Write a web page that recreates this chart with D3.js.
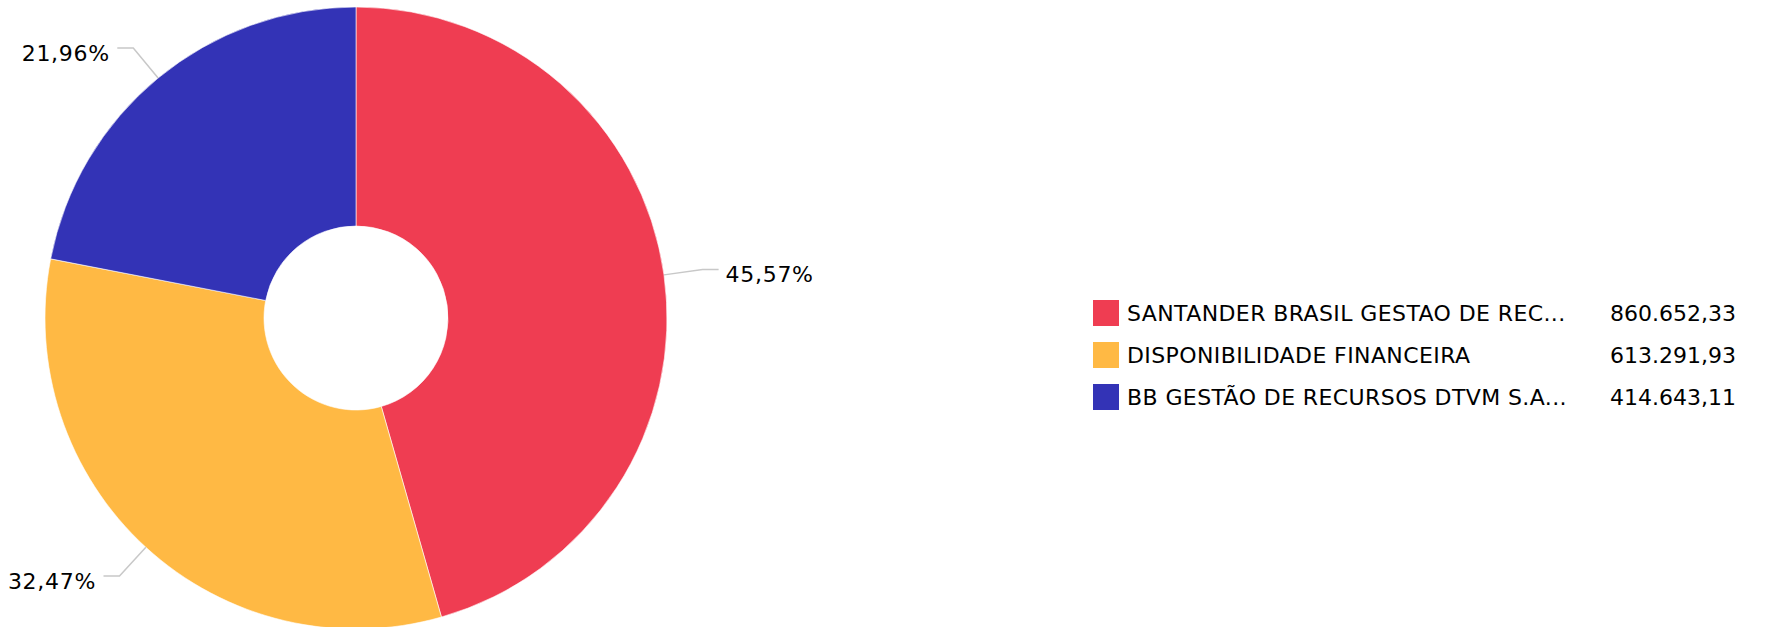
<!DOCTYPE html>
<html>
<head>
<meta charset="utf-8">
<script src="https://cdn.jsdelivr.net/npm/d3@7"></script>
<style>
  html, body { margin: 0; padding: 0; background: #fff; }
  svg { display: block; }
  text { font-family: "DejaVu Sans", Verdana, sans-serif; }
</style>
</head>
<body>
<svg id="chart" width="1765" height="627"></svg>
<script>
const categories = [
  "SANTANDER BRASIL GESTAO DE REC...",
  "DISPONIBILIDADE FINANCEIRA",
  "BB GESTÃO DE RECURSOS DTVM S.A..."
];
const values = [860652.33, 613291.93, 414643.11];
const valueLabels = ["860.652,33", "613.291,93", "414.643,11"];
const colors = ["#EF3D52", "#FFB944", "#3333B6"];

const svg = d3.select("#chart");
const cx = 356, cy = 318;
const outerR = 311, innerR = 92;

const total = d3.sum(values);
const pct = v => (v / total * 100).toFixed(2).replace(".", ",") + "%";

const pie = d3.pie().sort(null).value(d => d.value);
const data = categories.map((c, i) => ({ name: c, value: values[i], label: valueLabels[i], color: colors[i] }));
const arcs = pie(data);

const arc = d3.arc().innerRadius(innerR).outerRadius(outerR);

const g = svg.append("g").attr("transform", `translate(${cx},${cy})`);

g.selectAll("path.slice")
  .data(arcs)
  .enter().append("path")
  .attr("class", "slice")
  .attr("d", arc)
  .attr("fill", d => d.data.color)
  .attr("stroke", "#fff")
  .attr("stroke-width", 0.6);

// label lines and texts
const elbowR = 350;
arcs.forEach(d => {
  const mid = (d.startAngle + d.endAngle) / 2;
  const p0 = [outerR * Math.sin(mid), -outerR * Math.cos(mid)];
  const p1 = [elbowR * Math.sin(mid), -elbowR * Math.cos(mid)];
  const right = Math.sin(mid) >= 0;
  const p2 = [p1[0] + (right ? 16 : -16), p1[1]];
  g.append("polyline")
    .attr("points", [p0, p1, p2].map(p => p.join(",")).join(" "))
    .attr("fill", "none")
    .attr("stroke", "#c8c8c8")
    .attr("stroke-width", 1.5);
  g.append("text")
    .attr("x", p2[0] + (right ? 7 : -7.5))
    .attr("y", p2[1] + 12.5)
    .attr("text-anchor", right ? "start" : "end")
    .attr("font-size", 22)
    .attr("letter-spacing", 0.7)
    .attr("fill", "#000")
    .text(pct(d.data.value));
});

// legend
const legendY = d3.scaleBand().domain(categories).range([292, 418]);
const lg = svg.append("g");
const rows = lg.selectAll("g.row").data(data).enter().append("g")
  .attr("class", "row")
  .attr("transform", d => `translate(0,${legendY(d.name) + legendY.bandwidth() / 2})`);
rows.append("rect")
  .attr("x", 1093).attr("y", -13)
  .attr("width", 26).attr("height", 26)
  .attr("fill", d => d.color);
rows.append("text")
  .attr("x", 1127).attr("y", 8)
  .attr("font-size", 22)
  .attr("letter-spacing", 0.4)
  .attr("fill", "#000")
  .text(d => d.name);
rows.append("text")
  .attr("x", 1736).attr("y", 8)
  .attr("text-anchor", "end")
  .attr("font-size", 22)
  .attr("fill", "#000")
  .text(d => d.label);
</script>
</body>
</html>
